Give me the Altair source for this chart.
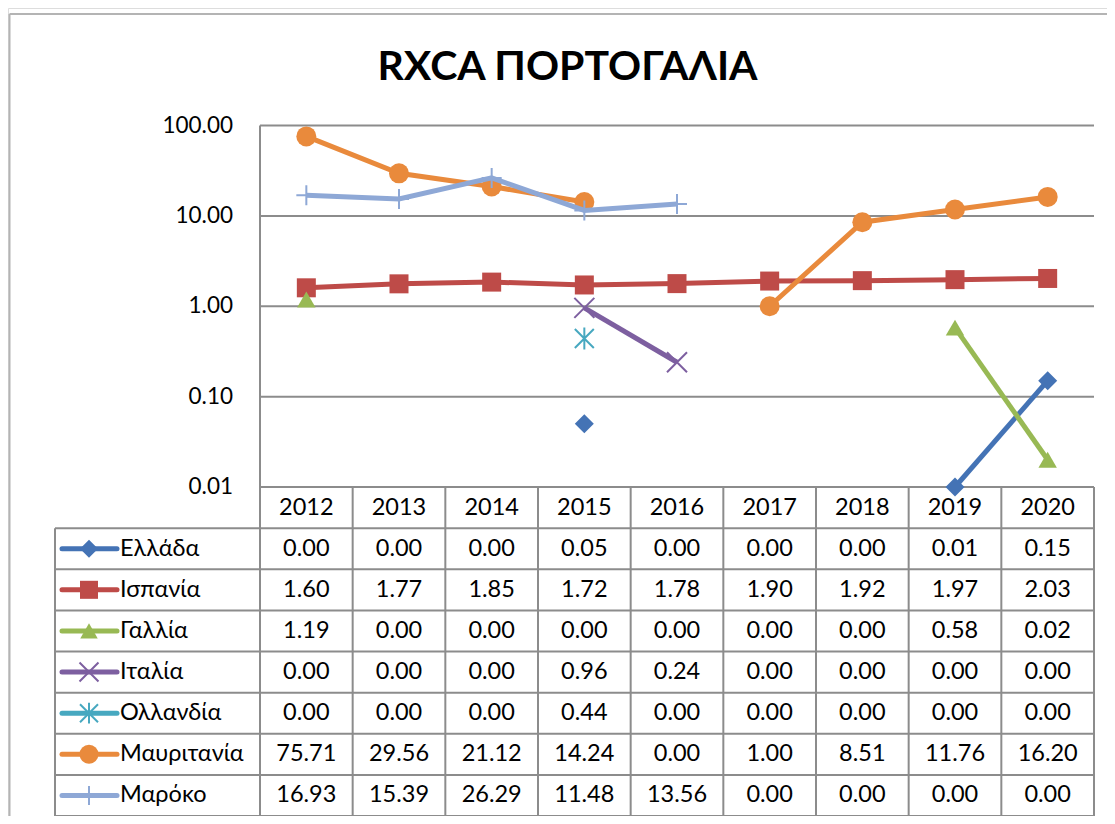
import altair as alt
import pandas as pd

# ---------------- data ----------------
title_text = "RXCA ΠΟΡΤΟΓΑΛΙΑ"
years = ["2012", "2013", "2014", "2015", "2016", "2017", "2018", "2019", "2020"]
countries = ["Ελλάδα", "Ισπανία", "Γαλλία", "Ιταλία", "Ολλανδία", "Μαυριτανία", "Μαρόκο"]
greece = [0.00, 0.00, 0.00, 0.05, 0.00, 0.00, 0.00, 0.01, 0.15]
spain = [1.60, 1.77, 1.85, 1.72, 1.78, 1.90, 1.92, 1.97, 2.03]
france = [1.19, 0.00, 0.00, 0.00, 0.00, 0.00, 0.00, 0.58, 0.02]
italy = [0.00, 0.00, 0.00, 0.96, 0.24, 0.00, 0.00, 0.00, 0.00]
netherlands = [0.00, 0.00, 0.00, 0.44, 0.00, 0.00, 0.00, 0.00, 0.00]
mauritania = [75.71, 29.56, 21.12, 14.24, 0.00, 1.00, 8.51, 11.76, 16.20]
morocco = [16.93, 15.39, 26.29, 11.48, 13.56, 0.00, 0.00, 0.00, 0.00]
y_ticks = [0.01, 0.1, 1, 10, 100]

series_values = [greece, spain, france, italy, netherlands, mauritania, morocco]

# ---------------- styles ----------------
colors = ["#4473B5", "#BE4B48", "#98B954", "#7D5FA0", "#47A8C0", "#E98A3C", "#8EA8D6"]
X_PATH = "M-1,-1L1,1M-1,1L1,-1"
AST_PATH = "M-1,-1L1,1M-1,1L1,-1M0,-1.15L0,1.15"
PLUS_PATH = "M-1,0L1,0M0,-1L0,1"
shapes = ["diamond", "square", "triangle-up", X_PATH, AST_PATH, "circle", PLUS_PATH]
filled = [True, True, True, False, False, True, False]
sizes = [361, 361, 340, 400, 360, 400, 400]

FONT = "Lato"
TABLE_FS = 23.5
GRID = "#8C8C8C"
FRAME = "#B4B4B4"

# ---------------- layout ----------------
W, H = 1099, 808
COL = 834 / 9.0                      # width of one year column


def u(px):                           # page pixel -> column units
    return (px - 260) / COL


X_MIN, X_MAX = u(8), u(8 + W)
ROW_H = (H - 479) / 8.0
LABEL_LEFT = u(55)
FRAME_X = u(9.5)
FRAME_TOP = -1 + (6 - 479) / ROW_H

xs = alt.Scale(domain=[X_MIN, X_MAX], nice=False, zero=False)
log_s = alt.Scale(type="log", domain=[0.01, 100], range=[479, 117.5], nice=False)
row_s = alt.Scale(domain=[-1, 7], range=[479, H], nice=False, zero=False)


def X(f):
    return alt.X(f, type="quantitative", scale=xs, axis=None)


def YL(f):
    return alt.Y(f, type="quantitative", scale=log_s, axis=None)


def YR(f):
    return alt.Y(f, type="quantitative", scale=row_s, axis=None)


layers = []

# frame (chart-area border, left and top)
frame_v = pd.DataFrame({"x": [FRAME_X], "y": [FRAME_TOP], "y2": [7.2]})
frame_h = pd.DataFrame({"x": [FRAME_X], "x2": [X_MAX], "y": [FRAME_TOP]})
layers.append(alt.Chart(frame_v).mark_rule(color=FRAME, strokeWidth=2).encode(
    x=X("x"), y=YR("y"), y2="y2"))
layers.append(alt.Chart(frame_h).mark_rule(color=FRAME, strokeWidth=2).encode(
    x=X("x"), x2="x2", y=YR("y")))

# plot gridlines + left axis line + tick labels
grid_df = pd.DataFrame({"v": y_ticks, "x0": 0.0, "x1": 9.0,
                        "lab": [f"{t:.2f}" for t in y_ticks]})
layers.append(alt.Chart(grid_df).mark_rule(color=GRID, strokeWidth=2).encode(
    x=X("x0"), x2="x1", y=YL("v")))
axis_df = pd.DataFrame({"x": [0.0], "lo": [min(y_ticks)], "hi": [max(y_ticks)]})
layers.append(alt.Chart(axis_df).mark_rule(color=GRID, strokeWidth=2).encode(
    x=X("x"), y=YL("lo"), y2="hi"))
layers.append(alt.Chart(grid_df).mark_text(
    align="right", baseline="middle", dx=-27, font=FONT, fontSize=22.5, color="#000000"
).encode(x=X("x0"), y=YL("v"), text="lab:N"))

# table grid
h_rows = [{"y": -1, "a": 0.0, "b": 9.0}] + [{"y": r, "a": LABEL_LEFT, "b": 9.0} for r in range(8)]
v_cols = [{"x": float(c), "a": -1, "b": 7} for c in range(10)] + [{"x": LABEL_LEFT, "a": 0, "b": 7}]
layers.append(alt.Chart(pd.DataFrame(h_rows)).mark_rule(color=GRID, strokeWidth=2).encode(
    x=X("a"), x2="b", y=YR("y")))
layers.append(alt.Chart(pd.DataFrame(v_cols)).mark_rule(color=GRID, strokeWidth=2).encode(
    x=X("x"), y=YR("a"), y2="b"))

# table header (years)
hdr = pd.DataFrame({"x": [i + 0.5 for i in range(len(years))], "y": -0.5, "t": years})
layers.append(alt.Chart(hdr).mark_text(
    font=FONT, fontSize=TABLE_FS, color="#000000", baseline="middle", align="center"
).encode(x=X("x"), y=YR("y"), text="t:N"))

# table values
cells = []
for r, vals in enumerate(series_values):
    for i, v in enumerate(vals):
        cells.append({"x": i + 0.5, "y": r + 0.5, "t": f"{v:.2f}"})
layers.append(alt.Chart(pd.DataFrame(cells)).mark_text(
    font=FONT, fontSize=TABLE_FS, color="#000000", baseline="middle", align="center"
).encode(x=X("x"), y=YR("y"), text="t:N"))

# row labels
labs = pd.DataFrame({"x": u(120), "y": [r + 0.5 for r in range(len(countries))], "t": countries})
layers.append(alt.Chart(labs).mark_text(
    font=FONT, fontSize=TABLE_FS, color="#000000", baseline="middle", align="left"
).encode(x=X("x"), y=YR("y"), text="t:N"))

# legend keys in the table + series in the plot
for r, (name, vals) in enumerate(zip(countries, series_values)):
    col, shp, fil, sz = colors[r], shapes[r], filled[r], sizes[r]
    key_line = pd.DataFrame({"a": [u(62)], "b": [u(117)], "y": [r + 0.5]})
    layers.append(alt.Chart(key_line).mark_rule(color=col, strokeWidth=5, strokeCap="round").encode(
        x=X("a"), x2="b", y=YR("y")))
    key_pt = pd.DataFrame({"x": [u(89)], "y": [r + 0.5]})
    layers.append(alt.Chart(key_pt).mark_point(
        shape=shp, filled=fil, size=sz * 0.9, color=col, strokeWidth=2, opacity=1
    ).encode(x=X("x"), y=YR("y")))

    # plotted data: zero values are not drawn (log axis), lines break there
    rows, seg = [], 0
    prev = False
    for i, v in enumerate(vals):
        if v > 0:
            if not prev:
                seg += 1
            rows.append({"x": i + 0.5, "v": v, "seg": seg, "year": years[i]})
            prev = True
        else:
            prev = False
    df = pd.DataFrame(rows)
    layers.append(alt.Chart(df).mark_line(color=col, strokeWidth=5).encode(
        x=X("x"), y=YL("v"), detail="seg:N", order="x:Q"))
    layers.append(alt.Chart(df).mark_point(
        shape=shp, filled=fil, size=sz, color=col, strokeWidth=2, opacity=1
    ).encode(x=X("x"), y=YL("v")))

chart = alt.layer(*layers).resolve_scale(y="independent").properties(
    width=W,
    height=H,
    autosize=alt.AutoSizeParams(type="none"),
    padding=0,
    title=alt.TitleParams(
        text=title_text, font=FONT, fontSize=41, fontWeight="bold", color="#000000",
        anchor="middle", offset=-81, dx=10,
    ),
).configure_view(stroke=None).configure(background="#FFFFFF")

chart.save("out.html", embed_options={"renderer": "svg", "actions": False})
